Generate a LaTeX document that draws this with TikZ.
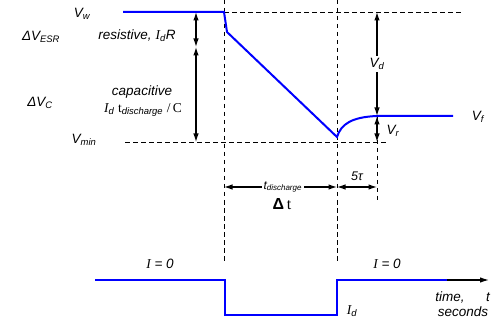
\documentclass[tikz,border=0pt]{standalone}
\usepackage{fontspec}
\setmainfont{Liberation Sans}
\newfontfamily\serf{Liberation Serif}
\usetikzlibrary{positioning, arrows.meta}

\newcommand{\sbs}[1]{\textsubscript{#1}}

\begin{document}
\begin{tikzpicture}[x=1pt, y=-1pt,
    wave/.style={blue, line width=2pt},
    guide/.style={dash pattern=on 4.5pt off 3.5pt, line width=0.9pt},
    dim/.style={line width=1.2pt, {Latex[length=8.5pt,width=5.5pt]}-{Latex[length=8.5pt,width=5.5pt]}},
    lbl/.style={font=\itshape\fontsize{13.5}{15}\selectfont, inner sep=1pt},
    cut/.style={lbl, fill=white, inner sep=2pt}]
  \useasboundingbox (0,0) rectangle (495,323);
  % voltage trace points
  \coordinate (w0) at (123,12);
  \coordinate (w1) at (224,12);
  \coordinate (w2) at (227,32);
  \coordinate (vlow) at (337,137);
  \coordinate (vf) at (377,116);
  \coordinate (w3) at (453,116);
  % guide lines
  \coordinate (gt) at (462,12);
  \coordinate (ga0) at (224,0);
  \coordinate (ga1) at (224,263);
  \coordinate (gb0) at (337,0);
  \coordinate (gb1) at (337,263);
  \coordinate (gm0) at (125,142);
  \coordinate (gm1) at (387,142);
  \coordinate (gc0) at (377,116);
  \coordinate (gc1) at (377,202);
  \draw[guide] (w1) -- (gt);
  \draw[guide] (ga0) -- (ga1);
  \draw[guide] (gb0) -- (gb1);
  \draw[guide] (gm0) -- (gm1);
  \draw[guide] (gc0) -- (gc1);
  \draw[wave] (w0) -- (w1) -- (w2) -- (vlow)
    .. controls (341,124) and (352,117) .. (vf) -- (w3);
  % dimension arrows
  \coordinate (e0) at (196,12);
  \coordinate (e1) at (196,47);
  \coordinate (e2) at (196,142);
  \coordinate (d0) at (377,12);
  \coordinate (r1) at (377,142);
  \coordinate (t0) at (224,187);
  \coordinate (t1) at (337,187);
  \coordinate (t2) at (377,187);
  \draw[dim] (e0) -- (e1);
  \draw[dim] (e1) -- (e2);
  \draw[dim] (d0) -- node[cut]{V\sbs{d}} (vf);
  \draw[dim] (vf) -- (r1);
  \draw[dim] (t0) -- node[cut, pos=0.52, font=\itshape\fontsize{12}{14}\selectfont]{t\sbs{discharge}} (t1);
  \draw[dim] (t1) -- (t2);
  % labels
  \node[lbl] (vw) at (82,14) {V\sbs{w}};
  \node[lbl] (vmin) at (84,140) {V\sbs{min}};
  \node[lbl] (desr) at (41,37) {ΔV\sbs{ESR}};
  \node[lbl] (dvc) at (40,103) {ΔV\sbs{C}};
  \node[lbl] (res) at (137,36) {resistive, {\serf I}\sbs{d}R};
  \node[lbl] (cap) at (142,92) {capacitive};
  \node[lbl] (capf) at (143,110) {{\serf I}\sbs{d} {\serf\upshape t}\sbs{discharge} {\serf\upshape /\,C}};
  \node[lbl] (vr) at (393,131) {V\sbs{r}};
  \node[lbl] (vflbl) at (478,117) {V\sbs{f}};
  \node[lbl, font=\upshape\fontsize{16}{18}\selectfont] (dt) at (282,204) {\textbf{Δ}\,{\serf t}};
  \node[lbl, font=\itshape\fontsize{12.5}{14}\selectfont] (tau) at (357,176) {5τ};
  % current trace
  \coordinate (c0) at (95,280);
  \coordinate (c1) at (225,280);
  \coordinate (c2) at (225,315);
  \coordinate (c3) at (337,315);
  \coordinate (c4) at (337,280);
  \coordinate (c5) at (447,280);
  \coordinate (c6) at (489,280);
  \draw[wave] (c0) -- (c1) -- (c2) -- (c3) -- (c4) -- (c5);
  \draw[line width=1.2pt, -{Latex[length=9pt,width=5.5pt]}] (c5) -- (c6);
  \node[lbl] (i0a) at (160,264) {{\serf I} = 0};
  \node[lbl] (i0b) at (387,264) {{\serf I} = 0};
  \node[lbl] (id) at (352,311) {{\serf I}\sbs{d}};
  \node[lbl] (tm) at (450,297) {time,};
  \node[lbl] (tt) at (488,297) {t};
  \node[lbl] (sec) at (463,312) {seconds};
\end{tikzpicture}
\end{document}
